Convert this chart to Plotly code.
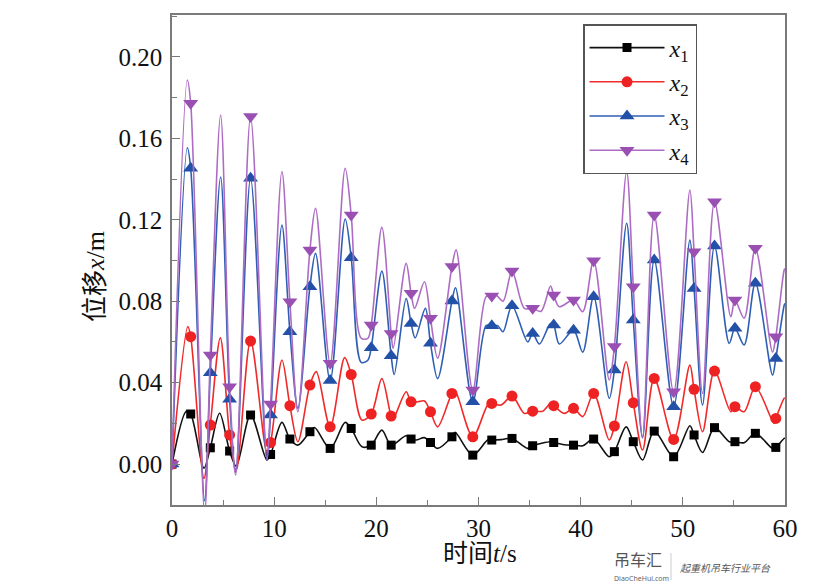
import plotly.graph_objects as go

# Common marker times (s)
marker_t = [0, 1.83, 3.75, 5.64, 7.69, 9.65, 11.54, 13.5, 15.48, 17.54, 19.5, 21.45, 23.4, 25.3,
            27.4, 29.44, 31.3, 33.28, 35.3, 37.36, 39.3, 41.27, 43.3, 45.15, 47.2, 49.1, 51.1,
            53.1, 55.1, 57.1, 59.1]

# Marker values (m)
x1_marker = [0, 0.0246, 0.008, 0.0064, 0.0241, 0.0047, 0.0123, 0.0159, 0.0077, 0.0175, 0.0093,
             0.0093, 0.0123, 0.0106, 0.0134, 0.0044, 0.0118, 0.0126, 0.009, 0.0106, 0.0093,
             0.0123, 0.0061, 0.011, 0.0162, 0.0036, 0.0143, 0.0179, 0.011, 0.0151, 0.0082]
x2_marker = [0, 0.0626, 0.0192, 0.0143, 0.0604, 0.0106, 0.0287, 0.0388, 0.0183, 0.044, 0.0246,
             0.0236, 0.0306, 0.0257, 0.0347, 0.0134, 0.0298, 0.0334, 0.026, 0.0287, 0.0274,
             0.0347, 0.0187, 0.0301, 0.0421, 0.0121, 0.0367, 0.0457, 0.0282, 0.038, 0.0224]
x3_marker = [0, 0.1453, 0.0449, 0.0319, 0.1404, 0.0241, 0.065, 0.0871, 0.041, 0.1014, 0.0572,
             0.0532, 0.0691, 0.0593, 0.0801, 0.0306, 0.068, 0.0778, 0.0642, 0.0683, 0.0658,
             0.0822, 0.0462, 0.0708, 0.1002, 0.0282, 0.0863, 0.1071, 0.0667, 0.0888, 0.0519]
x4_marker = [0, 0.1772, 0.0536, 0.038, 0.1707, 0.0295, 0.0798, 0.1052, 0.0495, 0.1224, 0.0683,
             0.0642, 0.0839, 0.0716, 0.097, 0.0364, 0.0826, 0.0948, 0.0765, 0.083, 0.0806,
             0.0999, 0.0577, 0.0871, 0.1224, 0.0355, 0.1043, 0.1289, 0.0806, 0.106, 0.0626]

# Additional curve points (peaks / troughs)
x1_t = [1.4, 3.13, 4.66, 6.29, 9.29, 10.76, 12.32, 13.95, 16.95, 18.6, 20.54, 22.92, 23.9, 24.7,
        26.0, 27.7, 30.9, 32.2, 34.8, 37.05, 38.4, 40.2, 42.8, 44.45, 46.06, 50.69, 51.93, 54.54,
        56.0, 58.78, 59.92, 60]
x1_v = [0.026, -0.002, 0.025, -0.001, 0.002, 0.0205, 0.0093, 0.018, 0.0205, 0.0085, 0.0167,
        0.0139, 0.0118, 0.013, 0.0077, 0.0156, 0.0118, 0.012, 0.0077, 0.011, 0.0095, 0.009,
        0.0036, 0.0183, 0.002, 0.0188, 0.0057, 0.011, 0.0105, 0.0077, 0.0126, 0.0127]

x2_t = [1.55, 3.13, 4.73, 6.29, 9.29, 10.76, 12.32, 14.12, 16.9, 18.6, 20.54, 21.65, 22.92, 24.05,
        24.71, 26.0, 27.7, 30.9, 32.2, 34.49, 36.3, 37.05, 38.4, 40.2, 42.8, 44.45, 46.06, 50.69,
        51.93, 54.7, 56.0, 58.93, 59.92, 60]
x2_v = [0.0675, -0.007, 0.062, -0.003, 0.006, 0.0511, 0.011, 0.0454, 0.0523, 0.0216, 0.042,
        0.0224, 0.0355, 0.0306, 0.031, 0.0183, 0.036, 0.029, 0.029, 0.0249, 0.026, 0.0298,
        0.0249, 0.0233, 0.0118, 0.0503, 0.0069, 0.0486, 0.0159, 0.0257, 0.0257, 0.02, 0.0323,
        0.0325]

x3_t = [1.5, 3.19, 4.76, 6.23, 9.29, 10.76, 12.32, 14.05, 16.95, 18.52, 19.17, 20.54, 21.75,
        22.92, 23.8, 24.8, 26.0, 27.75, 30.74, 31.88, 32.4, 34.82, 35.96, 37.05, 37.91, 40.2,
        42.8, 44.5, 46.06, 50.69, 51.93, 54.54, 56.0, 58.78, 59.92, 60]
x3_v = [0.1554, -0.018, 0.141, -0.004, 0.002, 0.1174, 0.0274, 0.1035, 0.1204, 0.050, 0.051,
        0.0948, 0.044, 0.0814, 0.062, 0.0765, 0.042, 0.0866, 0.068, 0.068, 0.065, 0.060, 0.059,
        0.069, 0.059, 0.055, 0.0323, 0.1183, 0.013, 0.110, 0.029, 0.0593, 0.0585, 0.0437, 0.078,
        0.079]

x4_t = [1.5, 3.19, 4.76, 6.23, 9.29, 10.76, 12.32, 14.05, 16.95, 18.52, 19.17, 20.54, 21.65,
        22.92, 23.75, 24.71, 26.0, 27.81, 30.74, 31.72, 32.4, 34.49, 36.12, 37.05, 37.91, 40.2,
        42.8, 44.5, 46.06, 50.69, 51.93, 54.7, 56.0, 58.78, 59.92, 60]
x4_v = [0.1887, -0.024, 0.1715, -0.0054, 0.002, 0.1437, 0.0257, 0.1256, 0.1453, 0.0618, 0.0618,
        0.1163, 0.0568, 0.0986, 0.0765, 0.0896, 0.052, 0.1052, 0.0822, 0.083, 0.080, 0.0765,
        0.075, 0.0875, 0.0773, 0.0749, 0.0413, 0.1437, 0.0134, 0.1346, 0.0347, 0.0724, 0.0716,
        0.055, 0.0953, 0.096]

series_names = ["<i>x</i><sub>1</sub>", "<i>x</i><sub>2</sub>",
                "<i>x</i><sub>3</sub>", "<i>x</i><sub>4</sub>"]

x_ticks = [0, 10, 20, 30, 40, 50, 60]
y_ticks = [0.00, 0.04, 0.08, 0.12, 0.16, 0.20]

series = [
    (x1_t, x1_v, x1_marker, "#111111", "#000000", "square", 9),
    (x2_t, x2_v, x2_marker, "#f02a2a", "#ee2222", "circle", 11),
    (x3_t, x3_v, x3_marker, "#2f5fb3", "#2451a8", "triangle-up", 13),
    (x4_t, x4_v, x4_marker, "#ad6cc4", "#9a50b2", "triangle-down", 13),
]

SERIF = "Liberation Serif"

fig = go.Figure()
for (ct, cv, mv, lc, mc, sym, ms), name in zip(series, series_names):
    pts = sorted(zip(list(ct) + marker_t, list(cv) + mv))
    fig.add_trace(go.Scatter(
        x=[p[0] for p in pts], y=[p[1] for p in pts], mode="lines",
        line=dict(color=lc, width=1.6, shape="spline", smoothing=0.9),
        showlegend=False, hoverinfo="skip"))
    fig.add_trace(go.Scatter(
        x=marker_t, y=mv, mode="markers",
        marker=dict(symbol=sym, size=ms, color=mc, line=dict(width=0)),
        showlegend=False, hoverinfo="skip"))
    fig.add_trace(go.Scatter(
        x=[None], y=[None], mode="lines+markers", name=name,
        line=dict(color=lc, width=1.6),
        marker=dict(symbol=sym, size=ms, color=mc, line=dict(width=0))))

axis_col = "#7a7a7a"
tick_font = dict(family=SERIF, size=25, color="#111111")

fig.update_layout(
    width=820, height=584,
    margin=dict(l=172, r=35, t=15, b=79),
    paper_bgcolor="white", plot_bgcolor="white",
    xaxis=dict(range=[0, 60], tickvals=x_ticks, ticktext=[str(v) for v in x_ticks],
               ticks="inside", ticklen=8, tickwidth=1.3, tickcolor=axis_col,
               minor=dict(dtick=5, tick0=0, ticks="inside", ticklen=5, tickcolor=axis_col),
               showline=True, linecolor=axis_col, linewidth=1.5, mirror=True,
               showgrid=False, zeroline=False, tickfont=tick_font),
    yaxis=dict(range=[-0.0201, 0.2206], tickvals=y_ticks,
               ticktext=[f"{v:.2f}" for v in y_ticks],
               ticks="inside", ticklen=8, tickwidth=1.3, tickcolor=axis_col,
               minor=dict(dtick=0.02, tick0=0, ticks="inside", ticklen=5, tickcolor=axis_col),
               showline=True, linecolor=axis_col, linewidth=1.5, mirror=True,
               showgrid=False, zeroline=False, tickfont=tick_font, ticklabelstandoff=3),
    legend=dict(x=0.6705, y=0.9816, xanchor="left", yanchor="top",
                bgcolor="white", bordercolor="#555555", borderwidth=1.5,
                font=dict(family=SERIF, size=24, color="#111111"),
                itemwidth=75, tracegroupgap=0),
    annotations=[
        dict(text="位移<i>x</i>/m", textangle=-90, xref="paper", yref="paper",
             x=(95 - 172) / 613, y=(505 - 277) / 490, xanchor="center", yanchor="middle",
             showarrow=False,
             font=dict(family=SERIF + ", Noto Sans CJK SC", size=26, color="#111111")),
        dict(text="时间<i>t</i>/s", xref="paper", yref="paper",
             x=(480 - 172) / 613, y=(505 - 553) / 490, xanchor="center", yanchor="middle",
             showarrow=False,
             font=dict(family=SERIF + ", Noto Sans CJK SC", size=25, color="#111111")),
        dict(text="吊车汇", xref="paper", yref="paper",
             x=(612 - 172) / 613, y=(505 - 559) / 490, xanchor="left", yanchor="middle",
             showarrow=False,
             font=dict(family="Noto Sans CJK SC", size=16, color="#555555")),
        dict(text="DiaoCheHui.com", xref="paper", yref="paper",
             x=(612 - 172) / 613, y=(505 - 578) / 490, xanchor="left", yanchor="middle",
             showarrow=False,
             font=dict(family="Noto Sans", size=7, color="#666666")),
        dict(text="<i>起重机吊车行业平台</i>", xref="paper", yref="paper",
             x=(678 - 172) / 613, y=(505 - 567) / 490, xanchor="left", yanchor="middle",
             showarrow=False,
             font=dict(family="Noto Sans CJK SC", size=10, color="#555555")),
    ],
    shapes=[
        dict(type="line", xref="paper", yref="paper",
             x0=(671 - 172) / 613, x1=(671 - 172) / 613,
             y0=(505 - 553) / 490, y1=(505 - 580) / 490,
             line=dict(color="#cccccc", width=1)),
    ],
)

fig.write_html("out.html")
